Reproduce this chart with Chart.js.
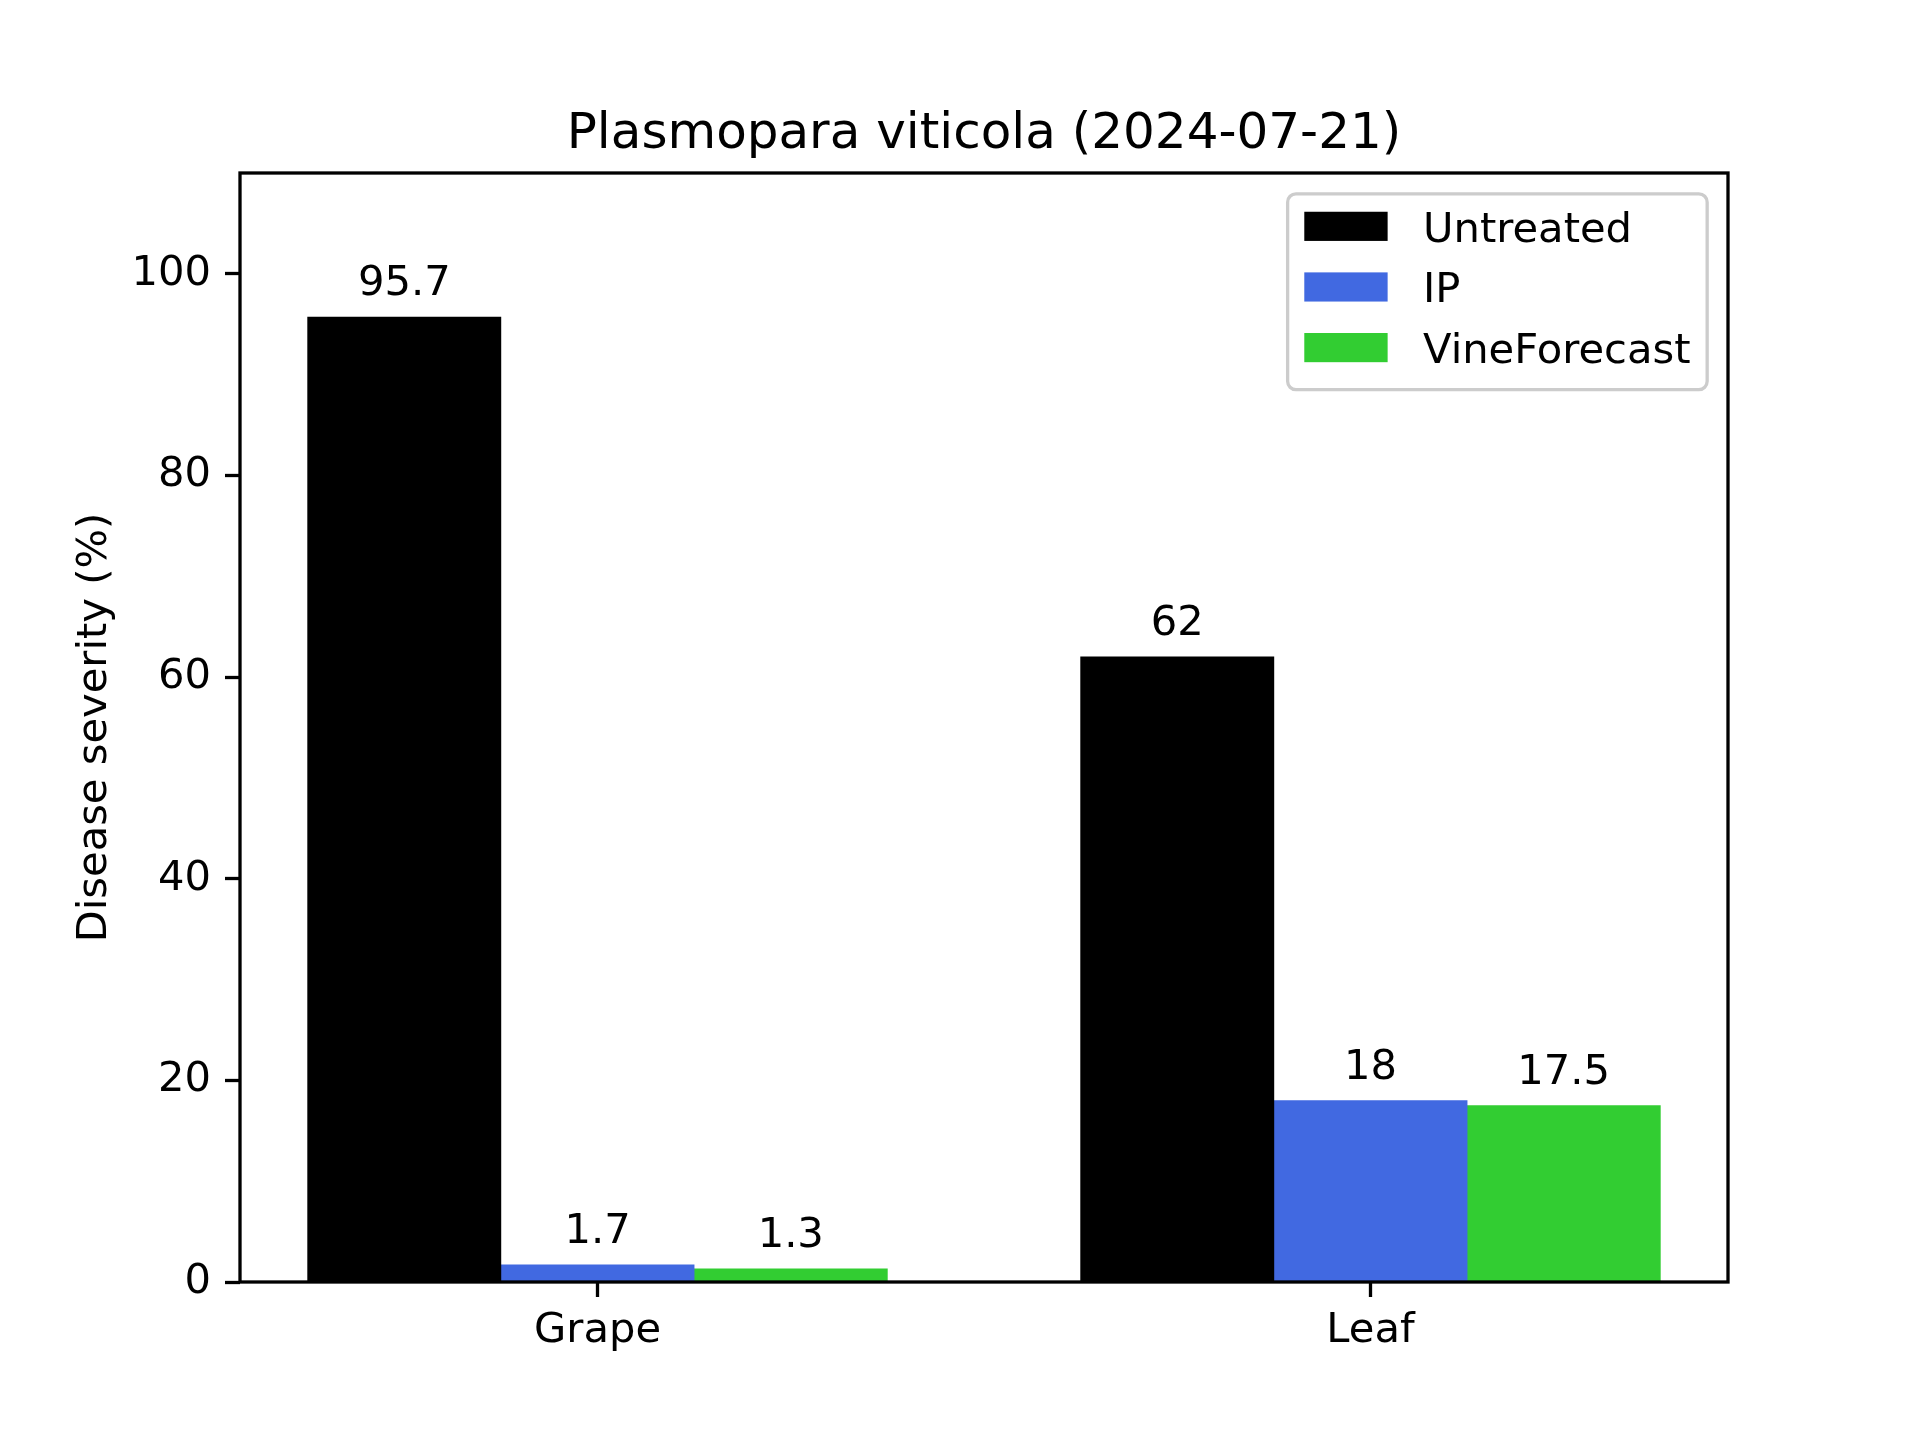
<!DOCTYPE html>
<html><head><meta charset="utf-8">
<script src="https://cdn.jsdelivr.net/npm/chart.js@4/dist/chart.umd.min.js"></script>
<style>html,body{margin:0;padding:0;background:#fff}canvas{display:block}</style>
</head><body>
<div style="width:1920px;height:1440px"><canvas id="c" width="1920" height="1440"></canvas></div>
<script>
const categories = ['Grape', 'Leaf'];
const seriesNames = ['Untreated', 'IP', 'VineForecast'];
const untreated = [95.7, 62];
const ip = [1.7, 18];
const vineForecast = [1.3, 17.5];
const seriesColors = ['#000000', '#4169E1', '#32CD32'];
const yTickValues = [0, 20, 40, 60, 80, 100];
const titleText = 'Plasmopara viticola (2024-07-21)';
const yAxisTitle = 'Disease severity (%)';
const barWidth = 0.25;

const FONT = 'DejaVu Sans';
const FS = 41.67;
const seriesValues = [untreated, ip, vineForecast];

const datasets = seriesNames.map((name, s) => ({
  label: name,
  data: categories.map((c, i) => ({ x: i + (s - 1) * barWidth, y: seriesValues[s][i] })),
  backgroundColor: seriesColors[s],
  borderWidth: 0,
  grouped: false,
  barPercentage: 1,
  categoryPercentage: 1
}));

const framePlugin = {
  id: 'frame',
  afterDatasetsDraw(chart) {
    const { ctx, chartArea: a } = chart;
    ctx.save();
    ctx.strokeStyle = '#000';
    ctx.lineWidth = 3.3;
    ctx.lineJoin = 'miter';
    ctx.strokeRect(a.left, a.top, a.right - a.left, a.bottom - a.top);
    ctx.restore();
  }
};

const labelPlugin = {
  id: 'barLabels',
  afterDatasetsDraw(chart) {
    const { ctx } = chart;
    ctx.save();
    ctx.fillStyle = '#000';
    ctx.font = `${FS}px "${FONT}"`;
    ctx.textAlign = 'center';
    ctx.textBaseline = 'alphabetic';
    chart.data.datasets.forEach((ds, di) => {
      const meta = chart.getDatasetMeta(di);
      meta.data.forEach((el, i) => {
        ctx.fillText(String(ds.data[i].y), el.x, el.y - 22);
      });
    });
    ctx.restore();
  }
};

const legendPlugin = {
  id: 'mplLegend',
  afterDraw(chart) {
    const { ctx, chartArea: a } = chart;
    const em = FS;
    ctx.save();
    ctx.font = `${FS}px "${FONT}"`;
    const dsets = chart.data.datasets;
    let maxW = 0;
    dsets.forEach(d => { maxW = Math.max(maxW, ctx.measureText(d.label).width); });
    const w = 0.4 * em + 2.0 * em + 0.85 * em + maxW + 0.4 * em;
    const h = 4.7 * em;
    const right = a.right - 0.5 * em;
    const top = a.top + 0.5 * em;
    const left = right - w;
    const r = 0.2 * em;
    ctx.beginPath();
    ctx.moveTo(left + r, top);
    ctx.lineTo(right - r, top);
    ctx.arcTo(right, top, right, top + r, r);
    ctx.lineTo(right, top + h - r);
    ctx.arcTo(right, top + h, right - r, top + h, r);
    ctx.lineTo(left + r, top + h);
    ctx.arcTo(left, top + h, left, top + h - r, r);
    ctx.lineTo(left, top + r);
    ctx.arcTo(left, top, left + r, top, r);
    ctx.closePath();
    ctx.fillStyle = 'rgba(255,255,255,0.8)';
    ctx.fill();
    ctx.strokeStyle = '#cccccc';
    ctx.lineWidth = 3.3;
    ctx.stroke();
    dsets.forEach((d, i) => {
      const cy = top + 0.78 * em + i * 1.455 * em;
      const hx = left + 0.4 * em;
      ctx.fillStyle = d.backgroundColor;
      ctx.fillRect(hx, cy - 0.35 * em, 2.0 * em, 0.7 * em);
      ctx.fillStyle = '#000';
      ctx.textAlign = 'left';
      ctx.textBaseline = 'alphabetic';
      ctx.fillText(d.label, hx + 2.85 * em, cy + 0.37 * em);
    });
    ctx.restore();
  }
};

const tickFont = { family: FONT, size: FS, weight: 'normal', lineHeight: 1.2 };
const gridOpts = { display: true, drawOnChartArea: false, drawTicks: true, tickLength: 15, tickWidth: 3.3, tickColor: '#000', offset: false };

new Chart(document.getElementById('c'), {
  type: 'bar',
  data: { datasets },
  plugins: [framePlugin, labelPlugin, legendPlugin],
  options: {
    responsive: false,
    devicePixelRatio: 1,
    animation: false,
    layout: { padding: { left: 0, right: 192, top: 105.5, bottom: 0 } },
    plugins: {
      legend: { display: false },
      tooltip: { enabled: false },
      title: {
        display: true, text: titleText, fullSize: false, color: '#000',
        font: { family: FONT, size: 50, weight: 'normal', lineHeight: 1.2 },
        padding: { top: 0, bottom: 7.5 }
      }
    },
    scales: {
      x: {
        type: 'linear', min: -0.4625, max: 1.4625, offset: false,
        afterBuildTicks: s => { s.ticks = categories.map((c, i) => ({ value: i })); },
        ticks: { color: '#000', font: tickFont, padding: 9, maxRotation: 0, autoSkip: false,
                 callback: v => categories[v] },
        grid: gridOpts,
        border: { display: false },
        afterFit: s => { s.height = 158; }
      },
      y: {
        type: 'linear', min: 0, max: 110,
        afterBuildTicks: s => { s.ticks = yTickValues.map(v => ({ value: v })); },
        ticks: { color: '#000', font: tickFont, padding: 14 },
        grid: gridOpts,
        border: { display: false },
        title: { display: true, text: yAxisTitle, color: '#000', font: tickFont, padding: { top: 70, bottom: 0 } },
        afterFit: s => { s.width = 240; }
      }
    }
  }
});
</script>
</body></html>
